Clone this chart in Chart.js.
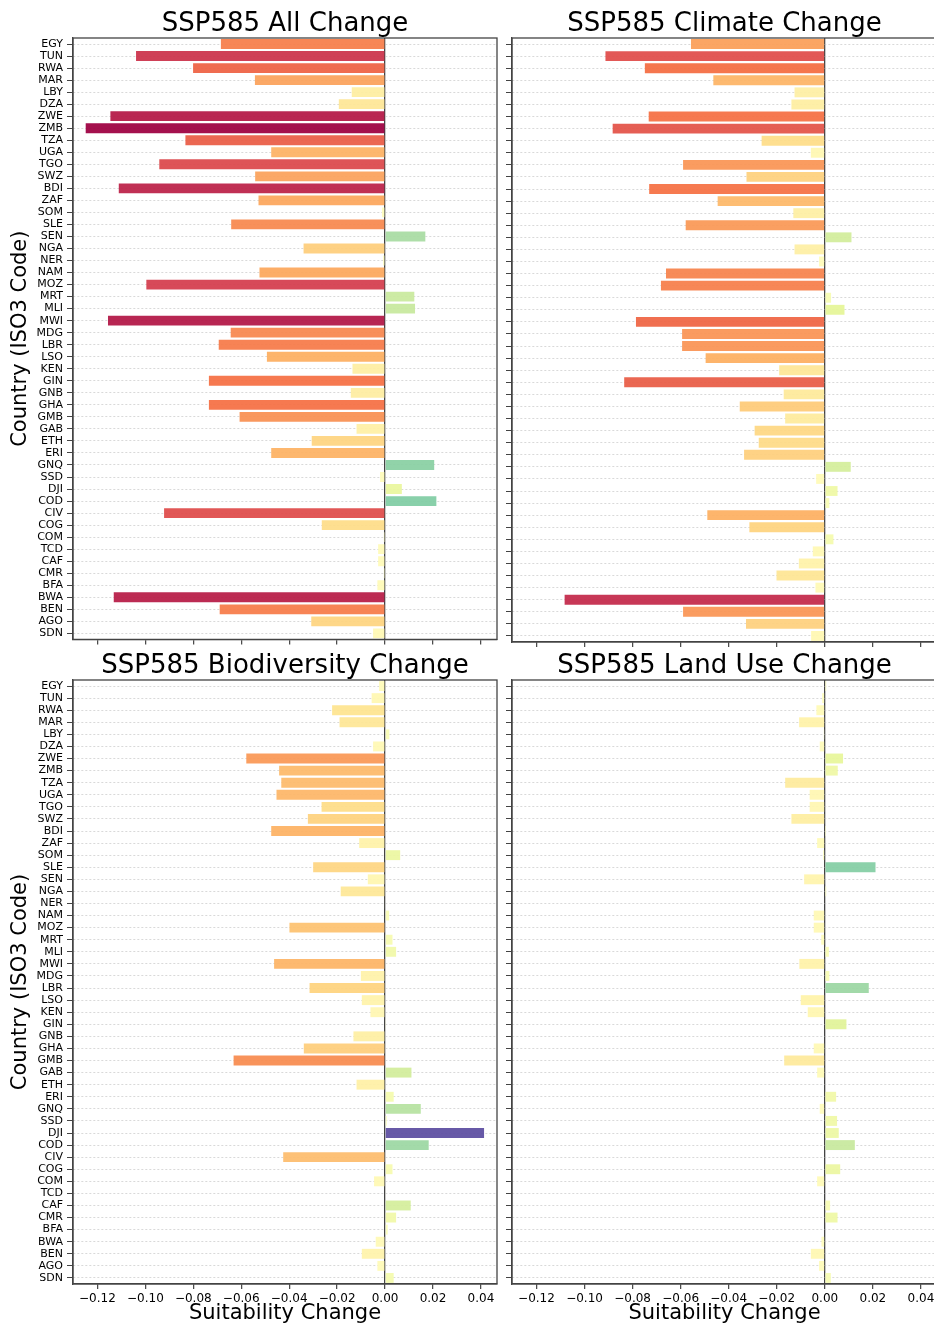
<!DOCTYPE html>
<html lang="en">
<head>
<meta charset="UTF-8">
<title>SSP585 Suitability Change</title>
<script src="https://cdn.jsdelivr.net/npm/chart.js"></script>
<style>
  html, body { margin: 0; padding: 0; background: #fff; overflow: hidden; width: 934px; height: 1326px; }
  canvas { position: absolute; }
</style>
</head>
<body>
<canvas id="allChart" width="500" height="650" style="left:0;top:0"></canvas>
<canvas id="climateChart" width="440" height="650" style="left:500px;top:0"></canvas>
<canvas id="bioChart" width="500" height="681" style="left:0;top:645px"></canvas>
<canvas id="landChart" width="440" height="681" style="left:500px;top:645px"></canvas>
<script>
const countries = ['EGY','TUN','RWA','MAR','LBY','DZA','ZWE','ZMB','TZA','UGA','TGO','SWZ','BDI','ZAF','SOM','SLE','SEN','NGA','NER','NAM',
  'MOZ','MRT','MLI','MWI','MDG','LBR','LSO','KEN','GIN','GNB','GHA','GMB','GAB','ETH','ERI','GNQ','SSD','DJI','COD','CIV',
  'COG','COM','TCD','CAF','CMR','BFA','BWA','BEN','AGO','SDN'];

const allChange = [-0.0685,-0.1039,-0.0801,-0.0543,-0.0139,-0.0193,-0.1146,-0.1249,-0.0833,-0.0475,-0.0942,-0.0542,-0.1111,-0.0528,-0.0013,-0.0642,0.0168,-0.0340,-0.0008,-0.0524,
  -0.0996,0.0122,0.0125,-0.1156,-0.0644,-0.0694,-0.0493,-0.0136,-0.0735,-0.0143,-0.0735,-0.0607,-0.0119,-0.0306,-0.0475,0.0205,-0.0021,0.0070,0.0214,-0.0922,
  -0.0264,-0.0005,-0.0029,-0.0029,-0.0005,-0.0032,-0.1132,-0.0690,-0.0308,-0.0050];

const climateChange = [-0.0557,-0.0913,-0.0749,-0.0464,-0.0126,-0.0139,-0.0733,-0.0883,-0.0263,-0.0058,-0.0590,-0.0326,-0.0731,-0.0446,-0.0131,-0.0579,0.0111,-0.0126,-0.0024,-0.0661,
  -0.0682,0.0026,0.0082,-0.0786,-0.0594,-0.0594,-0.0496,-0.0190,-0.0835,-0.0171,-0.0354,-0.0165,-0.0292,-0.0275,-0.0336,0.0108,-0.0036,0.0053,0.0019,-0.0489,
  -0.0314,0.0036,-0.0050,-0.0108,-0.0201,-0.0039,-0.1083,-0.0590,-0.0328,-0.0057];

const biodiversityChange = [-0.0025,-0.0056,-0.0221,-0.0190,0.0018,-0.0050,-0.0579,-0.0442,-0.0433,-0.0453,-0.0265,-0.0322,-0.0475,-0.0108,0.0063,-0.0300,-0.0072,-0.0185,-0.0003,0.0017,
  -0.0399,0.0031,0.0046,-0.0463,-0.0101,-0.0315,-0.0097,-0.0061,0.0002,-0.0132,-0.0339,-0.0632,0.0110,-0.0119,0.0036,0.0149,0.0007,0.0413,0.0182,-0.0425,
  0.0031,-0.0046,0.0003,0.0107,0.0046,0.0011,-0.0039,-0.0097,-0.0032,0.0036];

const landUseChange = [0.0006,-0.0011,-0.0035,-0.0107,-0.0004,-0.0021,0.0076,0.0054,-0.0165,-0.0063,-0.0063,-0.0139,0.0005,-0.0032,-0.0007,0.0211,-0.0086,0.0006,0.0000,-0.0046,
  -0.0046,-0.0015,0.0017,-0.0106,0.0019,0.0183,-0.0100,-0.0071,0.0090,0.0000,-0.0046,-0.0169,-0.0032,0.0000,0.0047,-0.0021,0.0051,0.0058,0.0125,0.0000,
  0.0064,-0.0032,0.0000,0.0022,0.0053,0.0000,-0.0014,-0.0058,-0.0024,0.0025];

const xTickValues = [-0.12, -0.10, -0.08, -0.06, -0.04, -0.02, 0.00, 0.02, 0.04];
const X_MIN = -0.1302, X_MAX = 0.0467;

const FONT = "'DejaVu Sans', sans-serif";

// matplotlib Spectral, centred on zero (two-slope norm over all four panels)
const spectral = ['#9e0142','#d53e4f','#f46d43','#fdae61','#fee08b','#ffffbf','#e6f598','#abdda4','#66c2a5','#3288bd','#5e4fa2'];
const everything = allChange.concat(climateChange, biodiversityChange, landUseChange);
const vMin = Math.min(...everything);
const vMax = Math.max(...everything);

function hexToRgb(h) {
  return [parseInt(h.slice(1,3),16), parseInt(h.slice(3,5),16), parseInt(h.slice(5,7),16)];
}

function barColor(v) {
  let t = v < 0 ? 0.5 * (1 - v / vMin) : 0.5 + 0.5 * v / vMax;
  t = Math.max(0, Math.min(1, t));
  const pos = t * (spectral.length - 1);
  const i = Math.min(Math.floor(pos), spectral.length - 2);
  const f = pos - i;
  const a = hexToRgb(spectral[i]), b = hexToRgb(spectral[i + 1]);
  const c = a.map((x, k) => Math.round(x + (b[k] - x) * f));
  return `rgba(${c[0]},${c[1]},${c[2]},0.94)`;
}

// box round the plot area, like matplotlib spines
const frame = {
  id: 'frame',
  afterDraw(chart) {
    const {ctx, chartArea: a} = chart;
    ctx.save();
    ctx.strokeStyle = '#444';
    ctx.lineWidth = 1.3;
    ctx.strokeRect(a.left, a.top, a.right - a.left, a.bottom - a.top);
    ctx.restore();
  }
};

// title centred over the plot area rather than the whole canvas
const panelTitle = {
  id: 'panelTitle',
  afterDraw(chart, args, opts) {
    const {ctx, chartArea: a} = chart;
    ctx.save();
    ctx.font = `26px ${FONT}`;
    ctx.fillStyle = '#000';
    ctx.textAlign = 'center';
    ctx.textBaseline = 'middle';
    ctx.fillText(opts.text, (a.left + a.right) / 2, a.top - opts.gap);
    ctx.restore();
  }
};

function makePanel(id, title, values, left, bottom, top) {
  new Chart(document.getElementById(id), {
    type: 'bar',
    data: {
      labels: countries,
      datasets: [{
        data: values,
        backgroundColor: values.map(barColor),
        barPercentage: 0.82,
        categoryPercentage: 1
      }]
    },
    options: {
      indexAxis: 'y',
      responsive: false,
      animation: false,
      layout: { padding: { left: 0, right: 3, top: top, bottom: 0 } },
      plugins: {
        legend: { display: false },
        tooltip: { enabled: false },
        title: { display: false },
        panelTitle: { text: title, gap: 14 }
      },
      scales: {
        x: {
          min: X_MIN,
          max: X_MAX,
          afterBuildTicks: scale => { scale.ticks = xTickValues.map(v => ({ value: v })); },
          afterFit: scale => { scale.height = bottom ? 42 : 8; },
          grid: {
            color: ctx => (ctx.tick && Math.abs(ctx.tick.value) < 1e-9) ? '#444' : 'rgba(0,0,0,0)',
            lineWidth: 1.3,
            tickColor: '#444',
            tickLength: 5,
            tickWidth: 1.2
          },
          border: { color: '#444', width: 1.3 },
          ticks: {
            display: bottom,
            color: '#000',
            padding: 3,
            font: { family: FONT, size: 12 },
            callback: v => (v < -1e-9 ? '\u2212' : '') + Math.abs(v).toFixed(2)
          },
          title: {
            display: bottom,
            text: 'Suitability Change',
            color: '#000',
            font: { family: FONT, size: 21 },
            padding: 0
          },
          z: 1
        },
        y: {
          offset: true,
          afterFit: scale => { scale.width = left ? 73 : 12; },
          grid: {
            offset: false,
            color: 'rgba(185,185,185,0.55)',
            lineWidth: 1,
            tickColor: '#444',
            tickLength: 6,
            tickWidth: 1.2,
            tickBorderDash: [1, 0]
          },
          border: { color: '#444', width: 1.3, dash: [2, 2] },
          ticks: {
            display: left,
            autoSkip: false,
            color: '#000',
            padding: 4,
            font: { family: FONT, size: 11 }
          },
          title: {
            display: left,
            text: 'Country (ISO3 Code)',
            color: '#000',
            font: { family: FONT, size: 21 },
            padding: { top: 8, bottom: 0 }
          },
          z: 1
        }
      }
    },
    plugins: [frame, panelTitle]
  });
}

makePanel('allChart', 'SSP585 All Change', allChange, true, false, 38);
makePanel('climateChart', 'SSP585 Climate Change', climateChange, false, false, 38);
makePanel('bioChart', 'SSP585 Biodiversity Change', biodiversityChange, true, true, 35);
makePanel('landChart', 'SSP585 Land Use Change', landUseChange, false, true, 35);
</script>
</body>
</html>
